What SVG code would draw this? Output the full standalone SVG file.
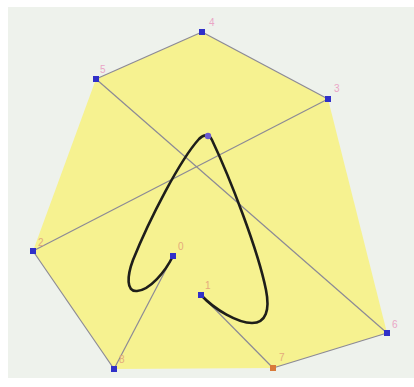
<svg xmlns="http://www.w3.org/2000/svg" width="414" height="387" viewBox="0 0 414 387">
<style>
.edge{stroke:#8c8a96;stroke-width:1.2;fill:none}
.pt{fill:#3030c8}
.lbl{font-family:"Liberation Sans",Arial,sans-serif;font-size:10px}
.pk{fill:#eaa6c6}
.or{fill:#e4aa7c}
</style>
<rect x="0" y="0" width="414" height="387" fill="#ffffff"/>
<rect x="8" y="7" width="406" height="371" fill="#eef2ec"/>
<polygon id="hull" points="202,32 328,99 387,333 273,368 114,369 33,251 96,79" fill="#f6f290"/>
<g id="connectors">
<line class="edge" x1="96" y1="79" x2="202" y2="32"/>
<line class="edge" x1="202" y1="32" x2="328" y2="99"/>
<line class="edge" x1="328" y1="99" x2="33" y2="251"/>
<line class="edge" x1="33" y1="251" x2="114" y2="369"/>
<line class="edge" x1="114" y1="369" x2="173" y2="256"/>
<line class="edge" x1="96" y1="79" x2="387" y2="333"/>
<line class="edge" x1="387" y1="333" x2="273" y2="368"/>
<line class="edge" x1="273" y1="368" x2="201" y2="295"/>
</g>
<g id="curve">
<path d="M173,256 C165,272 150,290 137,291 C126,292 127,276 133,260 C150,218 180,160 199,139 C204,134 209,134 212,140 C230,178 258,250 266,290 C270,310 266,323 252,323 C238,323 215,310 201,295" fill="none" stroke="#1e1e1a" stroke-width="2.6" stroke-linecap="round"/>
</g>
<g id="apex"><circle cx="208" cy="136" r="3.2" fill="#6a5ad0"/></g>
<g id="p0"><rect class="pt" x="170" y="253" width="6" height="6"/><text class="lbl or" x="178" y="250">0</text></g>
<g id="p1"><rect class="pt" x="198" y="292" width="6" height="6"/><text class="lbl or" x="205" y="289">1</text></g>
<g id="p2"><rect class="pt" x="30" y="248" width="6" height="6"/><text class="lbl or" x="38" y="246">2</text></g>
<g id="p3"><rect class="pt" x="325" y="96" width="6" height="6"/><text class="lbl pk" x="334" y="92">3</text></g>
<g id="p4"><rect class="pt" x="199" y="29" width="6" height="6"/><text class="lbl pk" x="209" y="26">4</text></g>
<g id="p5"><rect class="pt" x="93" y="76" width="6" height="6"/><text class="lbl pk" x="100" y="73">5</text></g>
<g id="p6"><rect class="pt" x="384" y="330" width="6" height="6"/><text class="lbl pk" x="392" y="328">6</text></g>
<g id="p7"><rect x="270" y="365" width="6" height="6" fill="#d87a3a"/><text class="lbl or" x="279" y="361">7</text></g>
<g id="p8"><rect class="pt" x="111" y="366" width="6" height="6"/><text class="lbl or" x="119" y="363">8</text></g>
</svg>
